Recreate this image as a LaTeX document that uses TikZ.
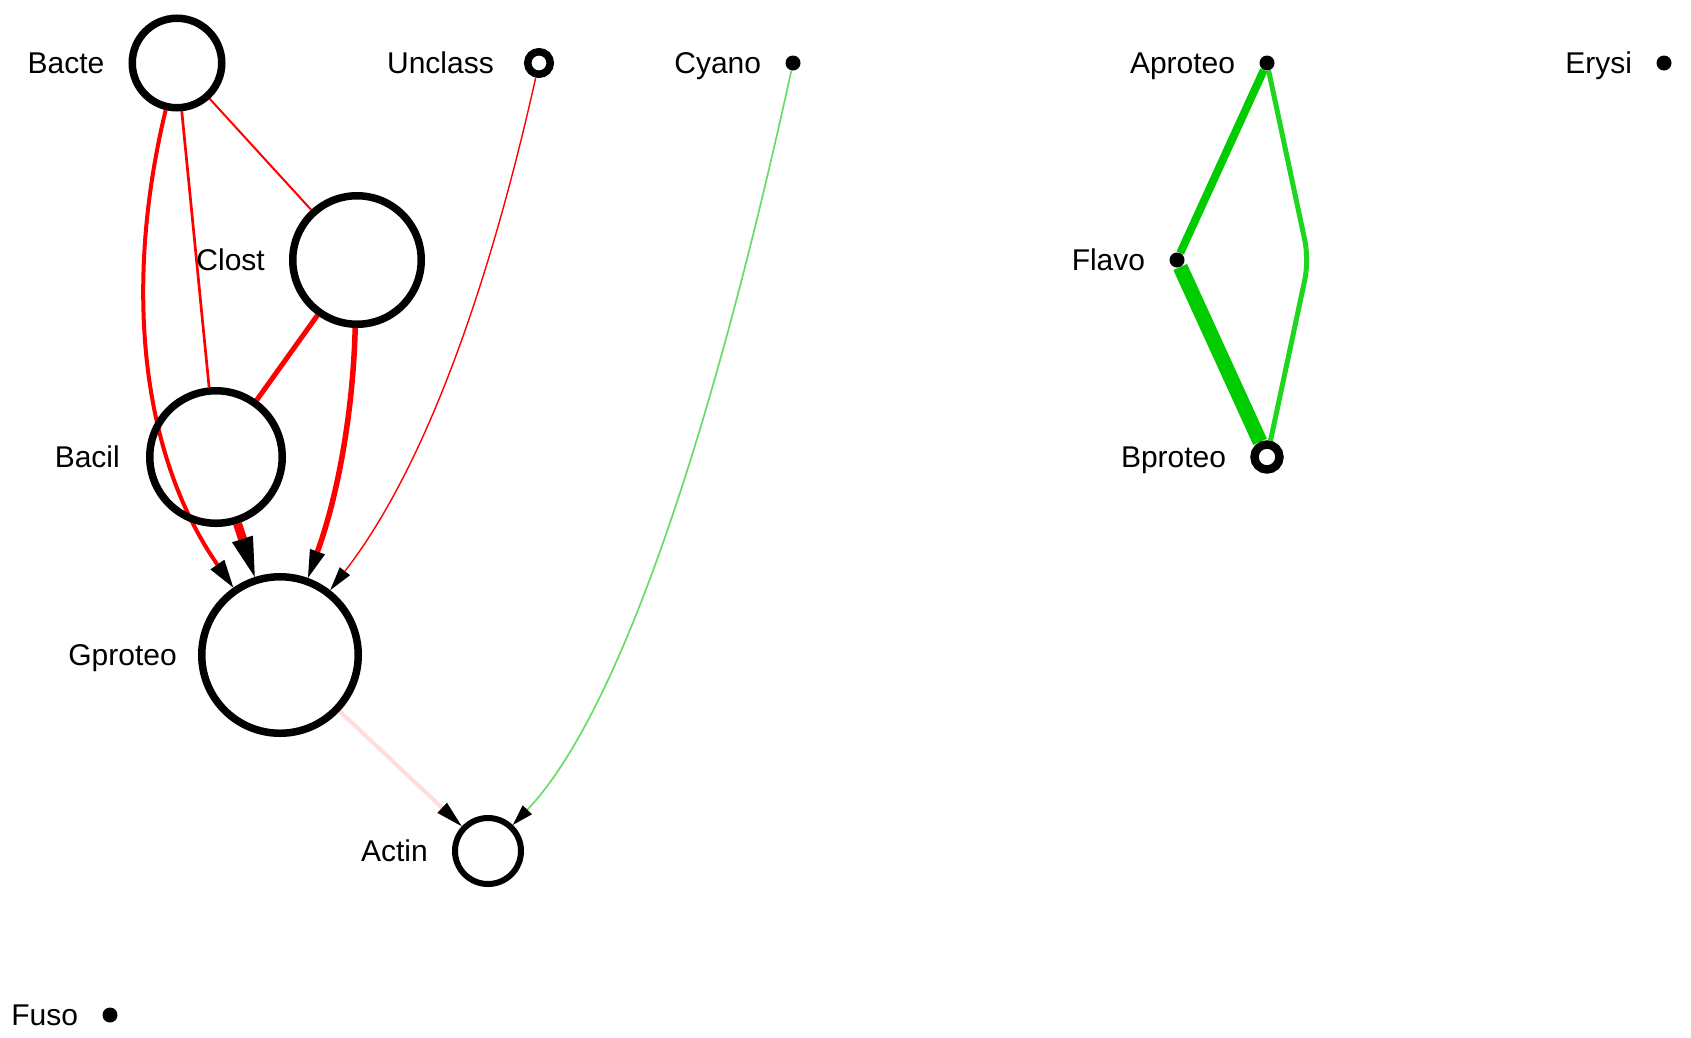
\documentclass[tikz,border=0pt]{standalone}
\usepackage{fontspec}
\setmainfont{Liberation Sans}
\usetikzlibrary{arrows.meta,positioning,backgrounds}
\definecolor{plusgreen}{RGB}{0,204,0}
\definecolor{pluslight}{RGB}{30,214,30}
\definecolor{plusfaint}{RGB}{102,221,102}
\definecolor{minusfaint}{RGB}{255,221,221}
\tikzset{
  taxon/.style={circle,draw,line width=7.5pt,inner sep=0pt,minimum size=#1},
  dot/.style={circle,fill,inner sep=0pt,minimum size=15pt},
  tag/.style={font=\fontsize{30}{36}\selectfont,inner sep=0pt,text height=21.5pt,text depth=0pt},
  head/.style 2 args={-{Triangle[length=#1,width=#2,color=black,fill=black,line width=0pt]}},
}

\begin{document}
\begin{tikzpicture}[x=1pt,y=1pt,node distance=24pt]
\useasboundingbox (0,0) rectangle (1691,-1037);
\node[taxon=89.5pt] (Bacte) at (177,-63) {};
\node[taxon=22.5pt,line width=7.5pt] (Unclass) at (539,-63) {};
\node[dot] (Cyano) at (793,-63) {};
\node[dot] (Aproteo) at (1267,-63) {};
\node[dot] (Erysi) at (1664,-63) {};
\node[taxon=128.5pt] (Clost) at (357,-260) {};
\node[dot] (Flavo) at (1177,-260) {};
\node[taxon=132.5pt] (Bacil) at (216,-457) {};
\node[taxon=25pt,line width=8.4pt] (Bproteo) at (1267,-457) {};
\node[taxon=156.5pt] (Gproteo) at (280,-655) {};
\node[taxon=66pt,line width=6pt] (Actin) at (488,-851) {};
\node[dot] (Fuso) at (110,-1015) {};
\coordinate (Abend) at (1309,-260);
\foreach \n/\gap in {Bacte/24,Unclass/30,Cyano/24,Aproteo/24,Erysi/24,Clost/24,Flavo/24,
                     Bacil/26,Bproteo/24,Gproteo/21,Actin/24,Fuso/24}
  \node[tag,left=\gap pt of \n] (\n-tag) {\n};
\begin{pgfonlayer}{background}
\draw[red,line width=2pt] (Bacte) -- (Clost);
\draw[red,line width=2.7pt] (Bacte) -- (Bacil);
\draw[red,line width=4pt,head={28pt}{17pt}] (Bacte) .. controls (125,-279) and (138,-450) .. (Gproteo);
\draw[red,line width=5pt] (Clost) -- (Bacil);
\draw[red,line width=5.5pt,head={28pt}{16pt}] (Clost) .. controls (353,-412) and (338,-495) .. (Gproteo);
\draw[red,line width=9pt,head={40pt}{22pt}] (Bacil) -- (Gproteo);
\draw[red,line width=1.4pt,head={24pt}{13pt}] (Unclass) .. controls (486,-300) and (421,-473) .. (Gproteo);
\draw[minusfaint,line width=4pt,head={27pt}{14pt}] (Gproteo) -- (Actin);
\draw[plusfaint,line width=1.7pt,head={21pt}{13pt}] (Cyano) .. controls (704,-470) and (611,-722) .. (Actin);
\draw[plusgreen,line width=8pt] (Aproteo) -- (Flavo);
\draw[plusgreen,line width=15pt] (Flavo) -- (Bproteo);
\draw[pluslight,line width=5pt,rounded corners=20pt] (Aproteo) -- (Abend) -- (Bproteo);
\end{pgfonlayer}
\end{tikzpicture}
\end{document}
